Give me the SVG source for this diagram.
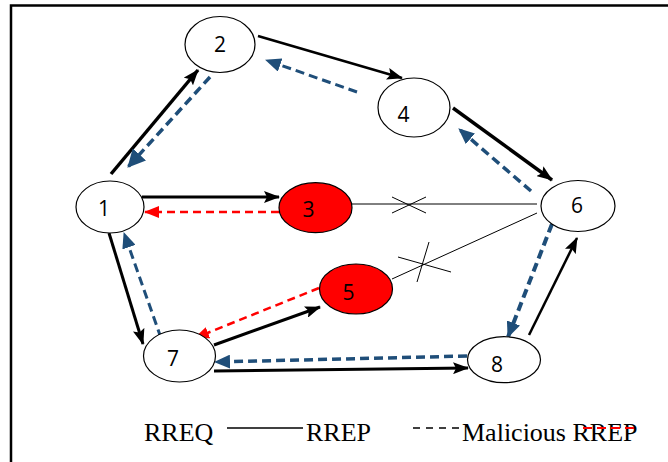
<svg xmlns="http://www.w3.org/2000/svg" width="668" height="462" viewBox="0 0 668 462">
<defs>
<style>
.node{stroke:#000;stroke-width:1.2}
.w{fill:#fff}
.r{fill:#ff0000}
.lbl{font-family:"Open Sans","Noto Sans",sans-serif;font-size:21px;fill:#000;text-anchor:middle}
.blk{stroke:#000;fill:none}
.blu{stroke:#1f4e79;fill:none;stroke-dasharray:9,5}
.red{stroke:#ff0000;fill:none;stroke-width:2.5;stroke-dasharray:8,5}
.thin{stroke:#000;stroke-width:1;fill:none}
.leg{font-family:"Liberation Serif","Times New Roman",serif;font-size:26px;fill:#000}
</style>
<marker id="ab" markerUnits="userSpaceOnUse" viewBox="0 0 16 12" markerWidth="16" markerHeight="12" refX="15" refY="6" orient="auto"><path d="M0,0 L16,6 L0,12 L3,6 z" fill="#000"/></marker>
<marker id="au" markerUnits="userSpaceOnUse" viewBox="0 0 16 14" markerWidth="16" markerHeight="14" refX="15" refY="7" orient="auto"><path d="M0,0 L16,7 L0,14 z" fill="#1f4e79"/></marker>
<marker id="aubig" markerUnits="userSpaceOnUse" viewBox="0 0 18 18" markerWidth="18" markerHeight="18" refX="17" refY="9" orient="auto"><path d="M0,0 L18,9 L0,18 z" fill="#1f4e79"/></marker>
<marker id="ar" markerUnits="userSpaceOnUse" viewBox="0 0 15 12" markerWidth="15" markerHeight="12" refX="14" refY="6" orient="auto"><path d="M0,0 L15,6 L0,12 z" fill="#ff0000"/></marker>
</defs>
<rect width="668" height="462" fill="#fff"/>
<path d="M11,462 V5.5 H668" fill="none" stroke="#000" stroke-width="2.5"/>

<g id="connectors">
<line class="blk" stroke-width="3.5" x1="111" y1="174" x2="198" y2="70" marker-end="url(#ab)"/>
<line class="blu" stroke-width="3.5" x1="210" y1="77" x2="128" y2="167" marker-end="url(#aubig)"/>
<line class="blk" stroke-width="2.5" x1="258" y1="36" x2="402" y2="78" marker-end="url(#ab)"/>
<line class="blu" stroke-width="3" x1="357" y1="92" x2="266" y2="60" marker-end="url(#au)"/>
<line class="blk" stroke-width="3.5" x1="453" y1="108" x2="552" y2="180" marker-end="url(#ab)"/>
<line class="blu" stroke-width="3.5" x1="531" y1="191" x2="459" y2="129" marker-end="url(#au)"/>
<line class="blk" stroke-width="3" x1="142" y1="197" x2="279" y2="197" marker-end="url(#ab)"/>
<line class="red" x1="279" y1="212" x2="145" y2="212" marker-end="url(#ar)"/>
<line class="thin" x1="352" y1="204" x2="537" y2="204"/>
<line class="thin" x1="392" y1="197" x2="426" y2="213"/>
<line class="thin" x1="392" y1="213" x2="426" y2="197"/>
<line class="thin" x1="392" y1="279" x2="537" y2="213"/>
<line class="thin" x1="398" y1="257" x2="451" y2="272"/>
<line class="thin" x1="429" y1="242" x2="417" y2="282"/>
<line class="blk" stroke-width="3" x1="109" y1="233" x2="143" y2="344" marker-end="url(#ab)"/>
<line class="blu" stroke-width="3" x1="161" y1="338" x2="124" y2="233" marker-end="url(#au)"/>
<line class="red" x1="319" y1="288" x2="195" y2="338" marker-end="url(#ar)"/>
<line class="blk" stroke-width="3" x1="214" y1="345" x2="320" y2="307" marker-end="url(#ab)"/>
<line class="blu" stroke-width="3.5" x1="467" y1="356" x2="215" y2="362" marker-end="url(#au)"/>
<line class="blk" stroke-width="3" x1="214" y1="371" x2="468" y2="368" marker-end="url(#ab)"/>
<line class="blu" stroke-width="4" stroke-dasharray="12,7" x1="552" y1="224" x2="508" y2="337" marker-end="url(#au)"/>
<line class="blk" stroke-width="2.5" x1="529" y1="335" x2="577" y2="238" marker-end="url(#ab)"/>
</g>

<g id="node1"><ellipse class="node w" cx="110" cy="207" rx="34" ry="26"/><text class="lbl" x="104" y="215.5">1</text></g>
<g id="node2"><ellipse class="node w" cx="220" cy="44.5" rx="35" ry="28"/><text class="lbl" x="220" y="52">2</text></g>
<g id="node3"><ellipse class="node r" cx="315.5" cy="207.7" rx="36.5" ry="25"/><text class="lbl" x="308.5" y="217">3</text></g>
<g id="node4"><ellipse class="node w" cx="414" cy="107.5" rx="36" ry="29.5"/><text class="lbl" x="403.5" y="122">4</text></g>
<g id="node5"><ellipse class="node r" cx="356" cy="289" rx="36.5" ry="25"/><text class="lbl" x="348.5" y="299.5">5</text></g>
<g id="node6"><ellipse class="node w" cx="578" cy="206" rx="37" ry="25.5"/><text class="lbl" x="577" y="212.5">6</text></g>
<g id="node7"><ellipse class="node w" cx="179.5" cy="356" rx="36" ry="26"/><text class="lbl" x="173" y="366">7</text></g>
<g id="node8"><ellipse class="node w" cx="504" cy="359.7" rx="36.5" ry="23"/><text class="lbl" x="497" y="372">8</text></g>

<g id="legend">
<text class="leg" x="144" y="441">RREQ</text>
<line x1="227" y1="428" x2="303" y2="428" stroke="#000" stroke-width="1.5"/>
<text class="leg" x="306" y="441">RREP</text>
<line x1="413" y1="428" x2="462" y2="428" stroke="#000" stroke-width="1.5" stroke-dasharray="7,6"/>
<text class="leg" x="462" y="441">Malicious RREP</text>
<line x1="583" y1="428" x2="634" y2="428" stroke="#ff0000" stroke-width="2" stroke-dasharray="9,5"/>
</g>
</svg>
